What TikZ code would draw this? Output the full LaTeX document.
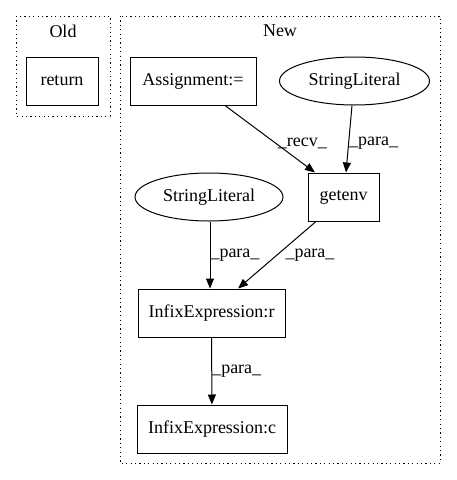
\documentclass[tikz,border=0pt]{standalone}
\usepackage{fontspec}
\setmainfont{Liberation Serif}
\usetikzlibrary{arrows.meta,shapes.geometric}
\begin{document}
\begin{tikzpicture}[x=1pt,y=1pt,
  font=\fontsize{18}{20}\selectfont,
  box/.style={draw,line width=1pt,rectangle,inner sep=0pt},
  oval/.style={draw,line width=1pt,ellipse,inner sep=0pt,minimum width=150pt,minimum height=48pt},
  cluster/.style={draw,line width=1pt,dash pattern=on 1.2pt off 3.2pt},
  arr/.style={line width=1pt,-{Triangle[length=10pt,width=8pt]}},
  lbl/.style={inner sep=0pt,anchor=west}]
\useasboundingbox (0,0) rectangle (456,-480);
\draw[cluster] (16,-16) rectangle (110,-116);
\node[inner sep=0pt] (oldlbl) at (63,-31) {Old};
\draw[cluster] (120,-16) rectangle (440,-463);
\node[inner sep=0pt] (newlbl) at (280,-31) {New};
\node[box,minimum width=72pt,minimum height=48pt] (ret) at (62,-81) {return};
\node[box,minimum width=126pt,minimum height=48pt] (assign) at (193,-81) {Assignment:=};
\node[oval] (sl1) at (354.5,-81) {StringLiteral};
\node[box,minimum width=71pt,minimum height=48pt] (getenv) at (343.5,-197) {getenv};
\node[oval,minimum width=148pt] (sl2) at (209,-197) {StringLiteral};
\node[box,minimum width=147pt,minimum height=48pt] (ir) at (211.5,-313) {InfixExpression:r};
\node[box,minimum width=150pt,minimum height=48pt] (ic) at (212,-429) {InfixExpression:c};
\draw[arr] (assign.south -| 225,0) -- (getenv.north -| 315,0) node[lbl,pos=0.56,xshift=2pt] {\_recv\_};
\draw[arr] (sl1.south -| 352,0) -- (getenv.north -| 346,0) node[lbl,pos=0.56] {\_para\_};
\draw[arr] (sl2.south -| 210,0) -- (ir.north -| 210,0) node[lbl,pos=0.5] {\_para\_};
\draw[arr] (getenv.south -| 316,0) -- (ir.north -| 238,0) node[lbl,pos=0.5,xshift=8pt] {\_para\_};
\draw[arr] (ir) -- (ic) node[lbl,pos=0.5] {\_para\_};
\end{tikzpicture}
\end{document}
